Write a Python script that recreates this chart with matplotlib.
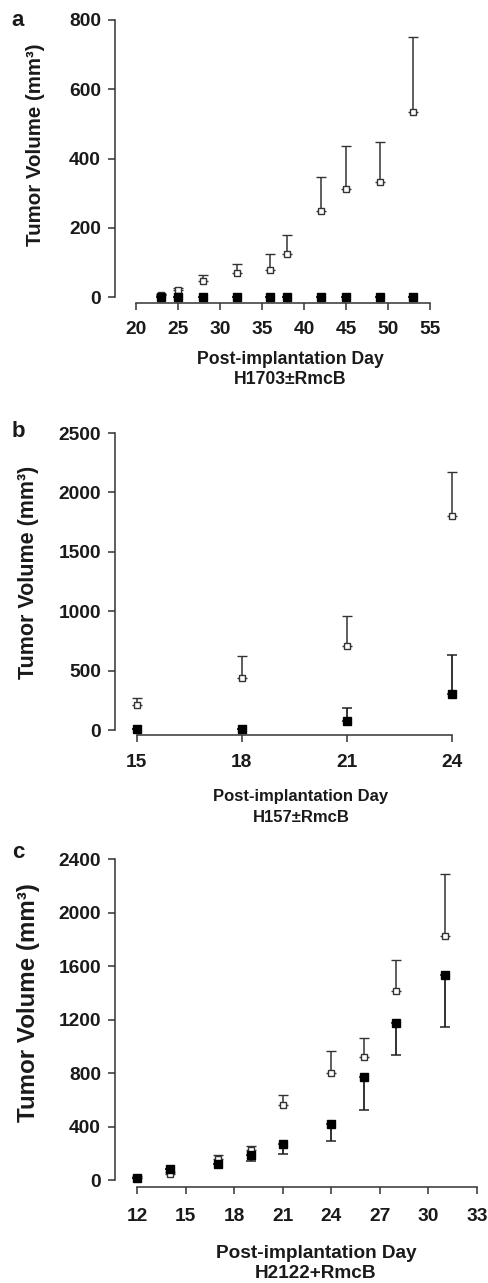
import matplotlib
matplotlib.use('Agg')
import matplotlib.pyplot as plt

plt.rcParams['font.family'] = ['Liberation Sans', 'DejaVu Sans']

W, H = 489, 1283

# panel a: H1703 +/- RmcB
a_days = [23, 25, 28, 32, 36, 38, 42, 45, 49, 53]
a_open = [5, 20, 45, 69, 77, 123, 248, 311, 332, 533]
a_open_err = [5, 6, 20, 27, 48, 57, 99, 125, 117, 217]
a_filled = [0, 0, 0, 0, 0, 0, 0, 0, 0, 0]
a_filled_err = [0, 0, 0, 0, 0, 0, 0, 0, 0, 0]

# panel b: H157 +/- RmcB
b_days = [15, 18, 21, 24]
b_open = [211, 435, 708, 1798]
b_open_err = [56, 189, 253, 373]
b_filled = [5, 10, 76, 303]
b_filled_err = [0, 0, 107, 326]

# panel c: H2122 + RmcB
c_days = [12, 14, 17, 19, 21, 24, 26, 28, 31]
c_open = [20, 50, 162, 225, 566, 798, 918, 1417, 1826]
c_open_err = [10, 10, 25, 32, 68, 165, 142, 230, 459]
c_filled = [20, 87, 120, 192, 269, 424, 768, 1173, 1534]
c_filled_err = [0, 0, 0, 47, 69, 130, 244, 240, 391]

fig = plt.figure(figsize=(W / 100, H / 100), dpi=100)


def make_axes(left, right, top, bottom, xlim, ylim, xb, yb, xticks, yticks, xpad):
    ax = fig.add_axes([left / W, 1 - bottom / H, (right - left) / W, (bottom - top) / H])
    ax.set_xlim(*xlim)
    ax.set_ylim(*ylim)
    for s in ['top', 'right']:
        ax.spines[s].set_visible(False)
    ax.spines['bottom'].set_bounds(*xb)
    ax.spines['left'].set_bounds(*yb)
    for s in ['bottom', 'left']:
        ax.spines[s].set_linewidth(1.1)
        ax.spines[s].set_color('#333333')
    ax.set_xticks(xticks)
    ax.set_yticks(yticks)
    ax.tick_params(axis='both', length=5, width=1.1, color='#333333', labelsize=13.8)
    ax.tick_params(axis='x', pad=xpad)
    ax.tick_params(axis='y', pad=5)
    for lab in ax.get_xticklabels() + ax.get_yticklabels():
        lab.set_fontweight('bold')
        lab.set_color('#1a1a1a')
    ax.patch.set_alpha(0)
    return ax


def draw(ax, days, openv, open_err, filled, filled_err, filled_down):
    ax.errorbar(days, openv, yerr=[[0] * len(days), open_err], fmt='s', ms=5,
                mfc='white', mec='#333333', mew=1.0, ecolor='#333333',
                elinewidth=1.1, capsize=3.5, capthick=1.1, clip_on=False, zorder=3)
    if filled_down:
        ferr = [filled_err, [0] * len(days)]
    else:
        ferr = [[0] * len(days), filled_err]
    ax.errorbar(days, filled, yerr=ferr, fmt='s', ms=5.5,
                mfc='black', mec='black', ecolor='#222222',
                elinewidth=1.3, capsize=3.5, capthick=1.1, clip_on=False, zorder=4)


# a
axa = make_axes(115, 430, 20, 303, (17.5, 55), (-17.3, 800), (20, 55), (0, 800),
                [20, 25, 30, 35, 40, 45, 50, 55], [0, 200, 400, 600, 800], 8)
draw(axa, a_days, a_open, a_open_err, a_filled, a_filled_err, False)

# b
axb = make_axes(115, 452, 433, 735, (14.38, 24), (-42, 2500), (15, 24), (0, 2500),
                [15, 18, 21, 24], [0, 500, 1000, 1500, 2000, 2500], 8.5)
draw(axb, b_days, b_open, b_open_err, b_filled, b_filled_err, False)

# c
axc = make_axes(115, 477, 859, 1187, (10.62, 33), (-50, 2400), (12, 33), (0, 2400),
                [12, 15, 18, 21, 24, 27, 30, 33], [0, 400, 800, 1200, 1600, 2000, 2400], 10)
draw(axc, c_days, c_open, c_open_err, c_filled, c_filled_err, True)


def ftext(x, y, s, size, **kw):
    fig.text(x / W, 1 - y / H, s, fontsize=size, fontweight='bold', color='#1a1a1a',
             ha='center', va='center', **kw)


ftext(18, 20, 'a', 16)
ftext(18, 432, 'b', 16)
ftext(18, 853, 'c', 16)

ftext(36, 145, 'Tumor Volume (mm³)', 14.8, rotation=90)
ftext(29, 572, 'Tumor Volume (mm³)', 15.5, rotation=90)
ftext(29, 1003, 'Tumor Volume (mm³)', 17.4, rotation=90)

ftext(290, 360, 'Post-implantation Day', 12.7)
ftext(290, 380, 'H1703±RmcB', 12.7)
ftext(301, 797, 'Post-implantation Day', 12)
ftext(301, 817, 'H157±RmcB', 12)
ftext(316, 1253, 'Post-implantation Day', 13.7)
ftext(316, 1273, 'H2122+RmcB', 13.7)

fig.savefig('out.png', dpi=100)
